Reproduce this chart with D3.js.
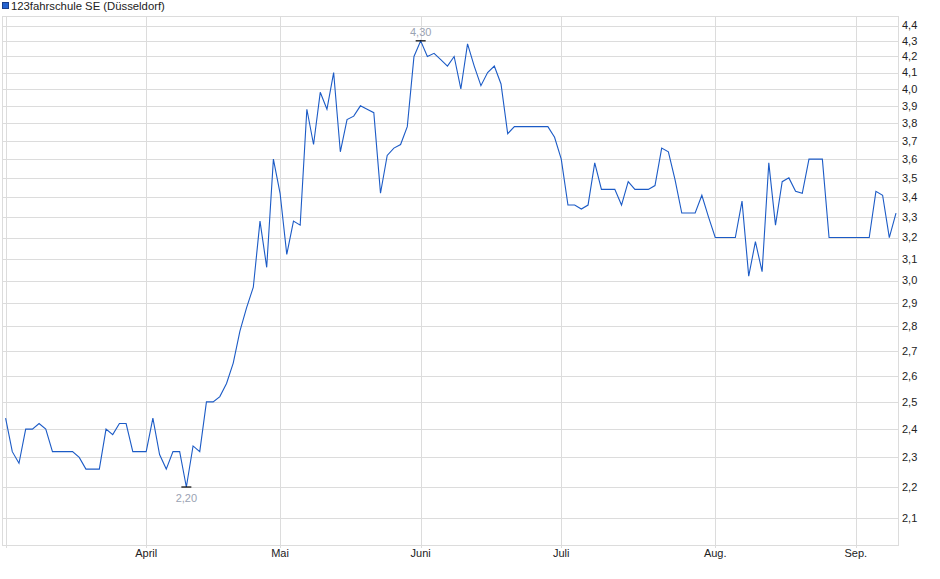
<!DOCTYPE html>
<html>
<head>
<meta charset="utf-8">
<script src="https://cdn.jsdelivr.net/npm/d3@7"></script>
<style>
    body { margin: 0; background: #fff; }
    text { font-family: "Liberation Sans", Arial, sans-serif; }
</style>
</head>
<body>
<div id="chart"></div>
<script>

const title = '123fahrschule SE (Düsseldorf)';

// closing prices, one per trading day
const prices = [
    2.44, 2.32, 2.28, 2.40, 2.40, 2.42, 2.40, 2.32, 2.32, 2.32,
    2.32, 2.30, 2.26, 2.26, 2.26, 2.40, 2.38, 2.42, 2.42, 2.32,
    2.32, 2.32, 2.44, 2.31, 2.26, 2.32, 2.32, 2.20, 2.34, 2.32,
    2.50, 2.50, 2.52, 2.57, 2.65, 2.78, 2.88, 2.97, 3.28, 3.06,
    3.60, 3.42, 3.12, 3.28, 3.26, 3.88, 3.68, 3.98, 3.88, 4.10,
    3.64, 3.82, 3.84, 3.90, 3.88, 3.86, 3.42, 3.62, 3.66, 3.68,
    3.78, 4.20, 4.30, 4.20, 4.22, 4.18, 4.14, 4.20, 4.00, 4.28,
    4.14, 4.02, 4.10, 4.14, 4.03, 3.74, 3.78, 3.78, 3.78, 3.78,
    3.78, 3.78, 3.72, 3.60, 3.36, 3.36, 3.34, 3.36, 3.58, 3.44,
    3.44, 3.44, 3.36, 3.48, 3.44, 3.44, 3.44, 3.46, 3.66, 3.64,
    3.49, 3.32, 3.32, 3.32, 3.41, 3.30, 3.20, 3.20, 3.20, 3.20,
    3.38, 3.02, 3.18, 3.04, 3.58, 3.26, 3.48, 3.50, 3.43, 3.42,
    3.60, 3.60, 3.60, 3.20, 3.20, 3.20, 3.20, 3.20, 3.20, 3.20,
    3.43, 3.41, 3.20, 3.32
];

const monthLabels = ['April', 'Mai', 'Juni', 'Juli', 'Aug.', 'Sep.'];
const monthStarts = [21, 41, 62, 83, 106, 127];   // index of first trading day

const yTicks = [2.1, 2.2, 2.3, 2.4, 2.5, 2.6, 2.7, 2.8, 2.9, 3.0, 3.1, 3.2,
    3.3, 3.4, 3.5, 3.6, 3.7, 3.8, 3.9, 4.0, 4.1, 4.2, 4.3, 4.4];

const width = 940;
const height = 579;
const plot = {left: 2.5, right: 898.5, top: 16.5, bottom: 545.5};
const gridColor = '#dcdcdc';
const lineColor = '#1c5bc6';

const fmt = (v, digits) => v.toFixed(digits).replace('.', ',');

const x = d3.scaleLinear()
    .domain([0, prices.length - 1])
    .range([5.6, 896]);

const y = d3.scaleLog()
    .domain([2.015, 4.46])
    .range([plot.bottom, plot.top]);

const svg = d3.select('#chart')
    .append('svg')
    .attr('width', width)
    .attr('height', height);

// legend
svg.append('rect')
    .attr('x', 2.5)
    .attr('y', 2.5)
    .attr('width', 6)
    .attr('height', 6)
    .attr('fill', '#2563d0')
    .attr('stroke', '#1b3f8a');

svg.append('text')
    .attr('x', 11)
    .attr('y', 10)
    .attr('font-size', 11.3)
    .attr('fill', '#222')
    .text(title);

const grid = svg.append('g')
    .attr('shape-rendering', 'crispEdges')
    .attr('stroke', gridColor)
    .attr('fill', 'none');

grid.selectAll('.hgrid')
    .data(yTicks)
    .enter()
    .append('line')
    .attr('class', 'hgrid')
    .attr('x1', plot.left)
    .attr('x2', plot.right)
    .attr('y1', (d) => Math.round(y(d)) + 0.5)
    .attr('y2', (d) => Math.round(y(d)) + 0.5);

grid.selectAll('.vgrid')
    .data([0].concat(monthStarts))
    .enter()
    .append('line')
    .attr('class', 'vgrid')
    .attr('x1', (d) => Math.round(x(d)) + 0.5)
    .attr('x2', (d) => Math.round(x(d)) + 0.5)
    .attr('y1', plot.top)
    .attr('y2', plot.bottom + 2);

grid.append('rect')
    .attr('x', plot.left)
    .attr('y', plot.top)
    .attr('width', plot.right - plot.left)
    .attr('height', plot.bottom - plot.top);

// y labels on the right
svg.append('g')
    .selectAll('text')
    .data(yTicks)
    .enter()
    .append('text')
    .attr('x', 902)
    .attr('y', (d) => y(d))
    .attr('dy', '0.35em')
    .attr('font-size', 11)
    .attr('fill', '#222')
    .text((d) => fmt(d, 1));

// month labels
svg.append('g')
    .selectAll('text')
    .data(monthStarts)
    .enter()
    .append('text')
    .attr('x', (d) => x(d))
    .attr('y', 557)
    .attr('text-anchor', 'middle')
    .attr('font-size', 11)
    .attr('fill', '#222')
    .text((d, i) => monthLabels[i]);

const line = d3.line()
    .x((d, i) => x(i))
    .y((d) => y(d));

svg.append('path')
    .datum(prices)
    .attr('d', line)
    .attr('fill', 'none')
    .attr('stroke', lineColor)
    .attr('stroke-width', 1.1)
    .attr('stroke-linejoin', 'miter');

// high / low markers
const hi = d3.maxIndex(prices);
const lo = d3.minIndex(prices);
const extremes = [
    {i: hi, v: prices[hi], dy: -4.5},
    {i: lo, v: prices[lo], dy: 14.5}
];

const marks = svg.append('g');
marks.selectAll('line')
    .data(extremes)
    .enter()
    .append('line')
    .attr('x1', (d) => x(d.i) - 5)
    .attr('x2', (d) => x(d.i) + 5)
    .attr('y1', (d) => y(d.v))
    .attr('y2', (d) => y(d.v))
    .attr('stroke', '#000')
    .attr('stroke-width', 1.2);

marks.selectAll('text')
    .data(extremes)
    .enter()
    .append('text')
    .attr('x', (d) => x(d.i))
    .attr('y', (d) => y(d.v) + d.dy)
    .attr('text-anchor', 'middle')
    .attr('font-size', 11)
    .attr('fill', '#9aa3b3')
    .text((d) => fmt(d.v, 2));

</script>
</body>
</html>
